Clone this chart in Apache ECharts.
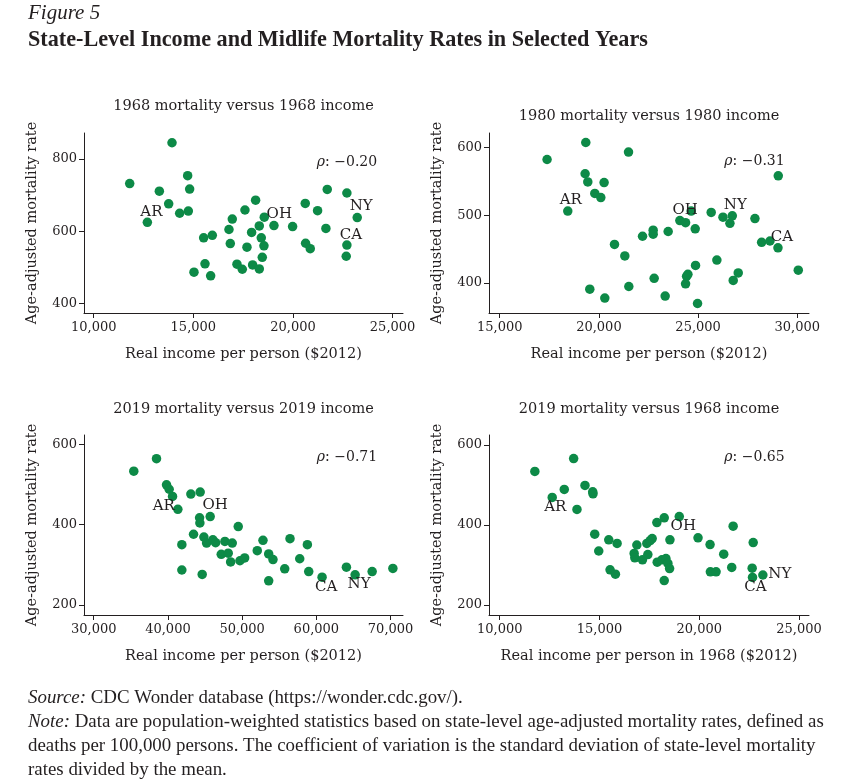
<!DOCTYPE html>
<html><head><meta charset="utf-8">
<script src="https://cdn.jsdelivr.net/npm/echarts@6/dist/echarts.min.js"></script>
<style>html,body{margin:0;padding:0;background:#fff}#c{width:847px;height:783px}</style>
</head><body><div id="c"></div>
<script>
// Labelled states come first in every panel, in this order
const stateTags = ['AR', 'OH', 'NY', 'CA'];

// Panel 1: 1968 mortality vs 1968 income
const p1Income = [12692,18561,23226,22707,11806,13929,13294,14715,14815,13762,14314,14748,15518,15952,16955,16788,16855,17591,18126,17925,17691,18310,18410,18544,18460,19046,19982,20617,21236,21721,21654,20634,20868,22707,22674,15033,15585,15869,17190,17457,17975,18310];
const p1Mortality = [625,639,638,562,732,845,711,754,717,676,650,656,582,589,634,605,566,659,686,597,556,615,582,560,528,616,613,677,657,716,608,567,552,706,531,487,510,477,509,495,507,496];

// Panel 2: 1980 mortality vs 1980 income
const p2Income = [18431,24652,26724,29026,17387,19339,21493,19305,19440,20262,19793,20096,24081,24368,25660,26254,26604,27865,24854,29041,28202,28623,22734,22734,23491,22199,20786,21306,30049,24871,25946,27023,26770,24419,24486,24368,22785,21508,19541,20297,23340,24972];
const p2Mortality = [506,506,499,452,582,607,593,561,549,548,532,526,492,489,504,497,488,495,480,558,460,462,478,472,476,469,457,440,419,426,434,415,404,410,413,399,407,395,391,378,381,370];

// Panel 3: 2019 mortality vs 2019 income
const p3Income = [41336,45695,65222,60769,35398,38461,39811,40166,40620,43090,44345,44264,44305,49474,43450,44845,45209,46059,46424,47678,48665,41876,47182,48124,48448,49703,50337,52038,52807,53576,54156,56450,58786,57759,55735,58970,53576,41876,44617,64048,67516,70309];
const p3Mortality = [438,420,275,269,533,564,499,488,470,476,481,417,404,395,376,369,354,362,355,358,354,350,326,329,307,310,317,335,361,327,313,365,350,315,290,283,260,287,276,294,283,291];

// Panel 4: 2019 mortality vs 1968 income
const p4Income = [12631,19000,23190,22671,11760,13705,13235,13872,14274,14661,14676,14761,14963,15465,15883,15531,15799,16873,16738,16771,17155,17424,17374,17542,17642,17877,18246,18532,17894,18130,18331,18431,18515,18246,19940,20544,21228,21700,20559,20845,21630,22706,22655];
const p4Mortality = [469,421,275,269,534,566,489,439,499,483,478,377,335,363,354,288,277,350,329,318,313,326,354,361,366,406,418,363,307,313,316,304,291,261,368,351,327,397,283,283,294,356,292];

// Tick labels
const p1XTicks = [10000,15000,20000,25000];
const p1YTicks = [400,600,800];
const p2XTicks = [15000,20000,25000,30000];
const p2YTicks = [400,500,600];
const p3XTicks = [30000,40000,50000,60000,70000];
const p3YTicks = [200,400,600];
const p4XTicks = [10000,15000,20000,25000];
const p4YTicks = [200,400,600];

const panelTitles = ['1968 mortality versus 1968 income','1980 mortality versus 1980 income','2019 mortality versus 2019 income','2019 mortality versus 1968 income'];
const correlations = ['\u22120.20','\u22120.31','\u22120.71','\u22120.65'];
const xNames = ['Real income per person ($2012)','Real income per person ($2012)','Real income per person ($2012)','Real income per person in 1968 ($2012)'];
const yName = 'Age-adjusted mortality rate';

// ---- styling / layout ----
const INK = '#231f20';
const GREEN = '#0d8a47';
const SERIF = 'DejaVu Serif';
const TSERIF = 'Liberation Serif';

const panels = [
  {x: p1Income, y: p1Mortality, xt: p1XTicks, yt: p1YTicks, xr: [9512, 25523], yr: [374, 872],
   grid: {left: 84, top: 133, width: 319, height: 180}, titlePos: [243.5, 106], rhoPos: [347, 162],
   offs: [[4,-10],[15,-3],[4,-11],[4,-10]]},
  {x: p2Income, y: p2Mortality, xt: p2XTicks, yt: p2YTicks, xr: [14460, 30590], yr: [356, 621],
   grid: {left: 489, top: 133, width: 320, height: 180}, titlePos: [649, 116], rhoPos: [754.5, 161],
   offs: [[3,-11],[-6,-1],[3,-11],[4,-11]]},
  {x: p3Income, y: p3Mortality, xt: p3XTicks, yt: p3YTicks, xr: [28691, 71673], yr: [175, 623],
   grid: {left: 84, top: 435, width: 319, height: 180}, titlePos: [243.5, 409], rhoPos: [347, 457],
   offs: [[-14,-3],[5,-11],[4,9],[4,10]]},
  {x: p4Income, y: p4Mortality, xt: p4XTicks, yt: p4YTicks, xr: [9462, 25503], yr: [175, 625],
   grid: {left: 489, top: 435, width: 320, height: 180}, titlePos: [649, 409], rhoPos: [754.5, 457],
   offs: [[3,10],[4,10],[17,-1],[3,10]]}
];

const fmt = v => String(v).replace(/\B(?=(\d{3})+(?!\d))/g, ',');

const grids = [], xAxes = [], yAxes = [], series = [], graphics = [];
panels.forEach((p, i) => {
  grids.push(p.grid);
  xAxes.push({
    type: 'value', gridIndex: i, min: p.xr[0], max: p.xr[1],
    axisLine: {show: true, onZero: false, lineStyle: {color: INK, width: 1}},
    axisTick: {show: true, length: 5, customValues: p.xt, lineStyle: {color: INK}},
    axisLabel: {customValues: p.xt, formatter: fmt, fontFamily: SERIF, fontSize: 13, color: INK, margin: 8},
    splitLine: {show: false},
    name: xNames[i], nameLocation: 'middle', nameGap: 34,
    nameTextStyle: {fontFamily: SERIF, fontSize: 14.5, color: INK}
  });
  yAxes.push({
    type: 'value', gridIndex: i, min: p.yr[0], max: p.yr[1],
    axisLine: {show: true, onZero: false, lineStyle: {color: INK, width: 1}},
    axisTick: {show: true, length: 5, customValues: p.yt, lineStyle: {color: INK}},
    axisLabel: {customValues: p.yt, fontFamily: SERIF, fontSize: 13, color: INK, margin: 7},
    splitLine: {show: false},
    name: yName, nameLocation: 'middle', nameGap: 44,
    nameTextStyle: {fontFamily: SERIF, fontSize: 14.5, color: INK}
  });
  const data = p.x.map((xv, k) => {
    const item = {value: [xv, p.y[k]]};
    if (k < stateTags.length) {
      item.label = {show: true, formatter: stateTags[k], position: 'inside', offset: p.offs[k],
        fontFamily: SERIF, fontSize: 15, color: INK};
    }
    return item;
  });
  series.push({type: 'scatter', xAxisIndex: i, yAxisIndex: i, data, symbolSize: 9.5,
    itemStyle: {color: GREEN, opacity: 1}, label: {show: false}, silent: true, z: 2});
  graphics.push({type: 'text', x: p.titlePos[0], y: p.titlePos[1],
    style: {text: panelTitles[i], font: '14.5px "' + SERIF + '"', fill: INK, align: 'center', verticalAlign: 'middle'}});
  graphics.push({type: 'text', x: p.rhoPos[0], y: p.rhoPos[1],
    style: {text: '{i|\u03c1}: ' + correlations[i], align: 'center', verticalAlign: 'middle', fill: INK,
      font: '14px "' + SERIF + '"',
      rich: {i: {fontStyle: 'italic', fontFamily: SERIF, fontSize: 14, fill: INK}}}});
});

graphics.push({type: 'text', x: 28, y: 13, style: {text: 'Figure 5', font: 'italic 21px "' + TSERIF + '"', fill: INK, verticalAlign: 'middle'}});
graphics.push({type: 'text', x: 28, y: 40, style: {text: 'State-Level Income and Midlife Mortality Rates in Selected Years', font: 'bold 22.2px "' + TSERIF + '"', fill: INK, verticalAlign: 'middle'}});
graphics.push({type: 'text', x: 28, y: 686, style: {
  text: '{i|Source:} {n|CDC Wonder database (https://wonder.cdc.gov/).}\n{i|Note:} {n|Data are population-weighted statistics based on state-level age-adjusted mortality rates, defined as}\n{n|deaths per 100,000 persons. The coefficient of variation is the standard deviation of state-level mortality}\n{n|rates divided by the mean.}',
  fill: INK, font: '18.9px "' + TSERIF + '"', lineHeight: 24,
  rich: {i: {fontStyle: 'italic', fontFamily: TSERIF, fontSize: 18.9, lineHeight: 24, fill: INK},
         n: {fontFamily: TSERIF, fontSize: 18.9, lineHeight: 24, fill: INK}}}});

const chart = echarts.init(document.getElementById('c'), null, {renderer: 'canvas'});
chart.setOption({
  animation: false, backgroundColor: '#fff',
  grid: grids, xAxis: xAxes, yAxis: yAxes, series, graphic: graphics
});
</script></body></html>
